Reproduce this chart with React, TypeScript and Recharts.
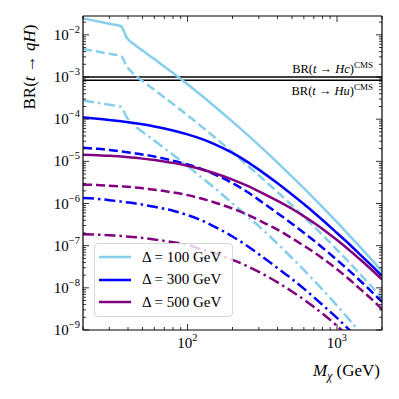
import React from 'react';
import { LineChart, Line, XAxis, YAxis, ReferenceLine } from 'recharts';

const FONT = '"Liberation Serif", "DejaVu Serif", serif';

// neutralino mass grid (GeV)
const mass = [20, 25, 30, 36, 39, 45, 50, 60, 70, 80, 100, 120, 150, 200, 250, 300, 400, 500, 600, 700, 800, 1000, 1200, 1400, 1600, 1800, 2000];

// Delta = 100 GeV
const sky100Solid = [2.46e-2, 2.09e-2, 1.83e-2, 1.6e-2, 8.9e-3, 5.6e-3, 4.24e-3, 2.66e-3, 1.77e-3, 1.24e-3, 6.71e-4, 4.0e-4, 2.09e-4, 8.73e-5, 4.35e-5, 2.42e-5, 9.35e-6, 4.36e-6, 2.31e-6, 1.33e-6, 8.22e-7, 3.6e-7, 1.81e-7, 1.0e-7, 5.95e-8, 3.74e-8, 2.45e-8];
const sky100Dashed = [4.6e-3, 4.0e-3, 3.55e-3, 3.15e-3, 1.85e-3, 1.07e-3, 8.0e-4, 4.97e-4, 3.28e-4, 2.3e-4, 1.24e-4, 7.4e-5, 3.87e-5, 1.62e-5, 8.2e-6, 4.65e-6, 1.87e-6, 9.0e-7, 4.86e-7, 2.86e-7, 1.79e-7, 8.0e-8, 4.07e-8, 2.27e-8, 1.37e-8, 8.7e-9, 5.7e-9];
const sky100DashDot = [2.8e-4, 2.45e-4, 2.2e-4, 1.95e-4, 1.15e-4, 6.7e-5, 5.0e-5, 3.1e-5, 2.05e-5, 1.44e-5, 7.75e-6, 4.6e-6, 2.42e-6, 1.01e-6, 5.1e-7, 2.9e-7, 1.11e-7, 5.1e-8, 2.66e-8, 1.5e-8, 9.1e-9, 3.8e-9, 1.81e-9, 9.5e-10, 5.4e-10, 3.2e-10, 2.0e-10];

// Delta = 300 GeV
const blue300Solid = [1.1e-4, 1.03e-4, 9.62e-5, 8.91e-5, 8.59e-5, 8.0e-5, 7.55e-5, 6.74e-5, 6.03e-5, 5.4e-5, 4.37e-5, 3.56e-5, 2.61e-5, 1.58e-5, 9.87e-6, 6.37e-6, 3.02e-6, 1.63e-6, 9.7e-7, 6.12e-7, 4.07e-7, 2.0e-7, 1.11e-7, 6.6e-8, 4.18e-8, 2.78e-8, 1.93e-8];
const blue300Dashed = [2.1e-5, 1.98e-5, 1.85e-5, 1.71e-5, 1.65e-5, 1.54e-5, 1.45e-5, 1.3e-5, 1.16e-5, 1.04e-5, 8.4e-6, 6.85e-6, 5.0e-6, 3.04e-6, 1.9e-6, 1.22e-6, 5.9e-7, 3.33e-7, 2.03e-7, 1.32e-7, 8.96e-8, 4.58e-8, 2.6e-8, 1.58e-8, 1.01e-8, 6.7e-9, 4.67e-9];
const blue300DashDot = [1.36e-6, 1.29e-6, 1.2e-6, 1.11e-6, 1.07e-6, 1.0e-6, 9.4e-7, 8.4e-7, 7.5e-7, 6.75e-7, 5.3e-7, 4.2e-7, 2.88e-7, 1.65e-7, 1.0e-7, 6.3e-8, 2.95e-8, 1.62e-8, 9.6e-9, 6.0e-9, 3.95e-9, 1.93e-9, 1.03e-9, 5.9e-10, 3.6e-10, 2.3e-10, 1.5e-10];

// Delta = 500 GeV
const purple500Solid = [1.43e-5, 1.4e-5, 1.35e-5, 1.3e-5, 1.27e-5, 1.21e-5, 1.16e-5, 1.07e-5, 9.9e-6, 9.2e-6, 7.9e-6, 6.7e-6, 5.3e-6, 3.7e-6, 2.65e-6, 1.95e-6, 1.16e-6, 7.5e-7, 5.0e-7, 3.5e-7, 2.5e-7, 1.36e-7, 8.0e-8, 5.0e-8, 3.3e-8, 2.25e-8, 1.58e-8];
const purple500Dashed = [2.8e-6, 2.75e-6, 2.65e-6, 2.55e-6, 2.5e-6, 2.4e-6, 2.3e-6, 2.12e-6, 1.97e-6, 1.83e-6, 1.58e-6, 1.35e-6, 1.07e-6, 7.6e-7, 5.5e-7, 4.0e-7, 2.4e-7, 1.5e-7, 1.0e-7, 7.0e-8, 5.0e-8, 2.75e-8, 1.62e-8, 1.0e-8, 6.6e-9, 4.5e-9, 3.1e-9];
const purple500DashDot = [1.86e-7, 1.82e-7, 1.76e-7, 1.7e-7, 1.66e-7, 1.59e-7, 1.52e-7, 1.4e-7, 1.3e-7, 1.21e-7, 1.05e-7, 8.5e-8, 6.7e-8, 4.6e-8, 3.3e-8, 2.4e-8, 1.35e-8, 8.2e-9, 5.3e-9, 3.5e-9, 2.45e-9, 1.25e-9, 6.8e-10, 4.0e-10, 2.5e-10, 1.6e-10, 1.0e-10];

// CMS limits
const cmsHc = 1.0e-3;
const cmsHu = 8.4e-4;

// ticks
const yDecades = [-9, -8, -7, -6, -5, -4, -3, -2];
const xDecades = [1, 2, 3];
const minorSteps = [1, 2, 3, 4, 5, 6, 7, 8, 9];
const xDomain = [20, 2000];
const yDomain = [1e-9, 2.8e-2];

const yTicks = yDecades.flatMap((e) => minorSteps.map((k) => k * Math.pow(10, e))).filter((v) => v <= yDomain[1]);
const xTicks = xDecades.flatMap((e) => minorSteps.map((k) => k * Math.pow(10, e))).filter((v) => v >= xDomain[0] && v <= xDomain[1]);

const deltas = [100, 300, 500];
const colors = ['#87CEEB', '#0000FF', '#800080'];
const DASH = '9 4';
const DASHDOT = '11 4 2.5 4';

const rows = (vals: number[]) => mass.map((m, i) => ({ m, v: vals[i] }));

const series = [
  { key: 's1', vals: sky100Solid, color: colors[0], dash: undefined },
  { key: 's2', vals: sky100Dashed, color: colors[0], dash: DASH },
  { key: 's3', vals: sky100DashDot, color: colors[0], dash: DASHDOT },
  { key: 'b1', vals: blue300Solid, color: colors[1], dash: undefined },
  { key: 'b2', vals: blue300Dashed, color: colors[1], dash: DASH },
  { key: 'b3', vals: blue300DashDot, color: colors[1], dash: DASHDOT },
  { key: 'p1', vals: purple500Solid, color: colors[2], dash: undefined },
  { key: 'p2', vals: purple500Dashed, color: colors[2], dash: DASH },
  { key: 'p3', vals: purple500DashDot, color: colors[2], dash: DASHDOT },
];

const isMajor = (v: number) => Math.abs(Math.log10(v) - Math.round(Math.log10(v))) < 1e-9;
const expo = (v: number) => Math.round(Math.log10(v));

const LeftTick = (props: any) => {
  const { x, y, payload } = props;
  const major = isMajor(payload.value);
  const e = expo(payload.value);
  return (
    <g>
      <line x1={x} x2={x + (major ? 6 : 3)} y1={y} y2={y} stroke="#000" strokeWidth={0.8} />
      {major && (
        <text x={x - 3} y={y + 5} textAnchor="end" fontFamily={FONT} fontSize={15} fill="#000">
          10<tspan dy={-7} fontSize={10.5}>{'\u2212' + -e}</tspan>
        </text>
      )}
    </g>
  );
};

const RightTick = (props: any) => {
  const { x, y, payload } = props;
  const major = isMajor(payload.value);
  return <line x1={x} x2={x - (major ? 6 : 3)} y1={y} y2={y} stroke="#000" strokeWidth={0.8} />;
};

const BottomTick = (props: any) => {
  const { x, y, payload } = props;
  const major = isMajor(payload.value);
  const e = expo(payload.value);
  return (
    <g>
      <line x1={x} x2={x} y1={y} y2={y - (major ? 6 : 3)} stroke="#000" strokeWidth={0.8} />
      {major && (
        <text x={x} y={y + 18} textAnchor="middle" fontFamily={FONT} fontSize={15} fill="#000">
          10<tspan dy={-7} fontSize={10.5}>{e}</tspan>
        </text>
      )}
    </g>
  );
};

const TopTick = (props: any) => {
  const { x, y, payload } = props;
  const major = isMajor(payload.value);
  return <line x1={x} x2={x} y1={y} y2={y + (major ? 6 : 3)} stroke="#000" strokeWidth={0.8} />;
};

const cmsLabel = (flavour: string, above: boolean) => (props: any) => {
  const vb = props.viewBox || {};
  const xEnd = vb.x + vb.width - 9;
  const y = above ? vb.y - 4 : vb.y + 15;
  return (
    <text x={xEnd} y={y} textAnchor="end" fontFamily={FONT} fontSize={12.5} fill="#000">
      BR(<tspan fontStyle="italic">t</tspan> {'\u2192'} <tspan fontStyle="italic">H{flavour}</tspan>)
      <tspan dy={-5} fontSize={9}>CMS</tspan>
    </text>
  );
};

export default function App() {
  return (
    <div style={{ position: 'absolute', left: 0, top: 0, width: 399, height: 399, background: '#fff' }}>
      <LineChart width={399} height={399} margin={{ top: 11, right: 12, bottom: 39, left: 43 }}>
        <XAxis
          xAxisId="bottom"
          dataKey="m"
          type="number"
          scale="log"
          domain={xDomain}
          allowDataOverflow
          ticks={xTicks}
          interval={0}
          height={30}
          tickSize={0}
          tickMargin={0}
          tickLine={false}
          axisLine={{ stroke: '#000', strokeWidth: 1.2 }}
          tick={<BottomTick />}
        />
        <XAxis
          xAxisId="top"
          orientation="top"
          dataKey="m"
          type="number"
          scale="log"
          domain={xDomain}
          allowDataOverflow
          ticks={xTicks}
          interval={0}
          height={5}
          tickSize={0}
          tickMargin={0}
          tickLine={false}
          axisLine={{ stroke: '#000', strokeWidth: 1.2 }}
          tick={<TopTick />}
        />
        <YAxis
          yAxisId="left"
          type="number"
          scale="log"
          domain={yDomain}
          allowDataOverflow
          ticks={yTicks}
          interval={0}
          width={40}
          tickSize={0}
          tickMargin={0}
          tickLine={false}
          axisLine={{ stroke: '#000', strokeWidth: 1.2 }}
          tick={<LeftTick />}
        />
        <YAxis
          yAxisId="right"
          orientation="right"
          type="number"
          scale="log"
          domain={yDomain}
          allowDataOverflow
          ticks={yTicks}
          interval={0}
          width={5}
          tickSize={0}
          tickMargin={0}
          tickLine={false}
          axisLine={{ stroke: '#000', strokeWidth: 1.2 }}
          tick={<RightTick />}
        />
        <ReferenceLine xAxisId="bottom" yAxisId="left" y={cmsHc} stroke="#000" strokeWidth={1.5} label={cmsLabel('c', true)} />
        <ReferenceLine xAxisId="bottom" yAxisId="left" y={cmsHu} stroke="#000" strokeWidth={1.5} label={cmsLabel('u', false)} />
        {series.map((s) => (
          <Line
            key={s.key}
            xAxisId="bottom"
            yAxisId="left"
            data={rows(s.vals)}
            dataKey="v"
            type="monotone"
            stroke={s.color}
            strokeWidth={2.5}
            strokeDasharray={s.dash}
            dot={false}
            activeDot={false}
            isAnimationActive={false}
          />
        ))}
      </LineChart>

      <svg width={399} height={399} style={{ position: 'absolute', left: 0, top: 0, pointerEvents: 'none' }}>
        <text transform="translate(35,67) rotate(-90)" textAnchor="middle" fontFamily={FONT} fontSize={17} fill="#000">
          BR(<tspan fontStyle="italic">t</tspan> {'\u2192'} <tspan fontStyle="italic">qH</tspan>)
        </text>
        <text x={380} y={376} textAnchor="end" fontFamily={FONT} fontSize={17} fill="#000">
          <tspan fontStyle="italic">M</tspan>
          <tspan fontStyle="italic" fontSize={12} dy={4}>{'\u03C7'}</tspan>
          <tspan dy={-4}> (GeV)</tspan>
        </text>
      </svg>

      <div
        style={{
          position: 'absolute',
          left: 94,
          top: 243,
          width: 139,
          height: 74,
          boxSizing: 'border-box',
          border: '1px solid #d6d6d6',
          borderRadius: 4,
          background: 'rgba(255,255,255,0.8)',
          paddingTop: 2,
          fontFamily: FONT,
        }}
      >
        {deltas.map((d, i) => (
          <div key={d} style={{ height: 22.5, display: 'flex', alignItems: 'center' }}>
            <svg width={36} height={6} style={{ marginLeft: 4 }}>
              <line x1={0} x2={32} y1={3} y2={3} stroke={colors[i]} strokeWidth={2.5} />
            </svg>
            <span style={{ marginLeft: 7, fontSize: 15, color: '#000' }}>
              {'\u0394 = '}
              {d} GeV
            </span>
          </div>
        ))}
      </div>
    </div>
  );
}
